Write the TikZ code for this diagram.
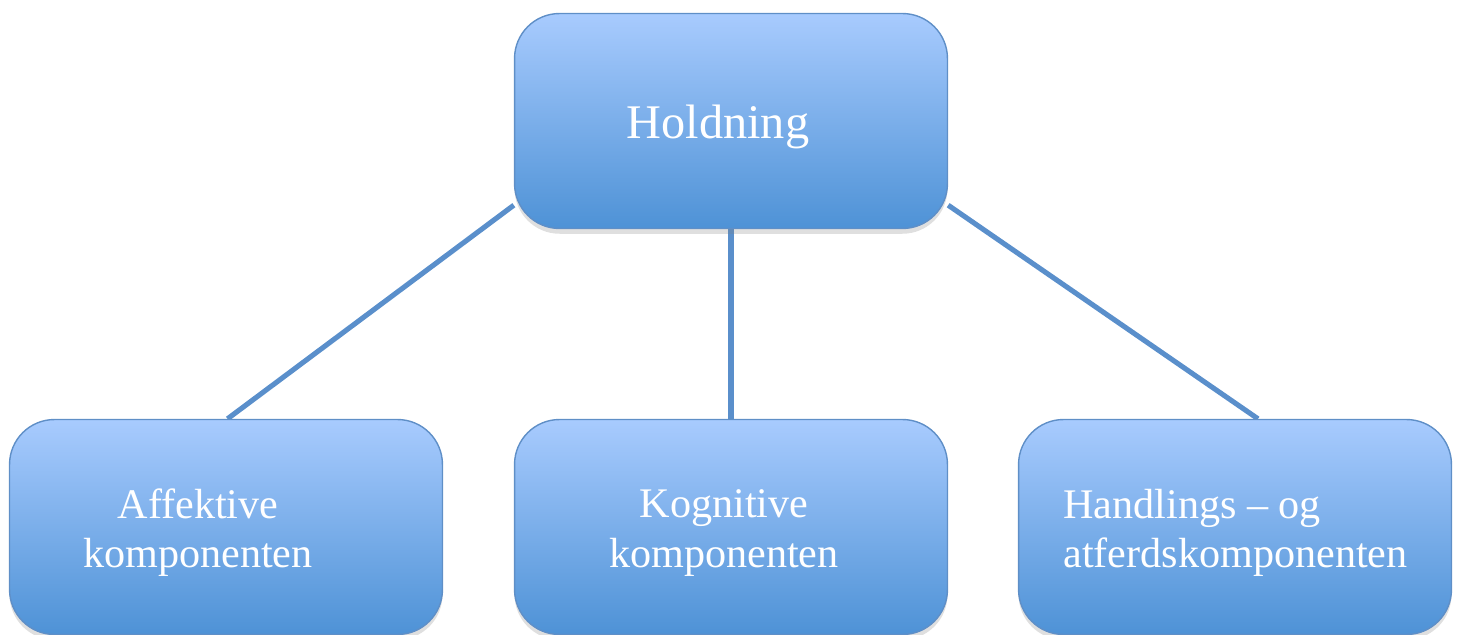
\documentclass[tikz,border=0pt]{standalone}
\usepackage{fontspec}
\setmainfont{Liberation Serif}
\usetikzlibrary{shadows,backgrounds}
\definecolor{boxtop}{HTML}{A8CBFE}
\definecolor{boxbot}{HTML}{4E92D6}
\definecolor{boxline}{HTML}{5F8FC7}
\definecolor{edgeblue}{HTML}{5A8FCB}

\begin{document}
\begin{tikzpicture}[x=0.02cm,y=-0.02cm]
      \tikzset{Box/.style = {rounded corners=0.9cm, draw=boxline, line width=0.8pt,
                             top color=boxtop, bottom color=boxbot,
                             minimum width=8.66cm, minimum height=4.3cm,
                             drop shadow={opacity=0.25, shadow xshift=0pt, shadow yshift=-3pt}},
               BoxText/.style = {text=white, font=\fontsize{24}{28}\selectfont},
               EdgeStyle/.style = {draw=edgeblue, line width=2.9pt}}
      \useasboundingbox (0,0) rectangle (1460,635);

      % Vertices
      \node[Box] (hold) at (731,121) {};
      \node[Box] (aff)  at (226,527) {};
      \node[Box] (kog)  at (731,527) {};
      \node[Box] (hand) at (1235,527) {};

      % Texts
      \node[BoxText, font=\fontsize{27.5}{32}\selectfont] (holdText) at (718,127) {Holdning};
      \node[BoxText, align=center] (affText) at (198,533) {Affektive\\komponenten};
      \node[BoxText, align=center] (kogText) at (724,533) {Kognitive\\komponenten};
      \node[BoxText, align=left, anchor=west, inner xsep=0pt] (handText) at (1063,533)
            {Handlings – og\\atferdskomponenten};

      % Edges
      \begin{scope}[on background layer]
        \draw[EdgeStyle] ([yshift=0.48cm]hold.south west) -- ([xshift=0.03cm]aff.north);
        \draw[EdgeStyle] (hold.south) -- (kog.north);
        \draw[EdgeStyle] ([yshift=0.48cm]hold.south east) -- ([xshift=0.46cm]hand.north);
      \end{scope}
\end{tikzpicture}
\end{document}
